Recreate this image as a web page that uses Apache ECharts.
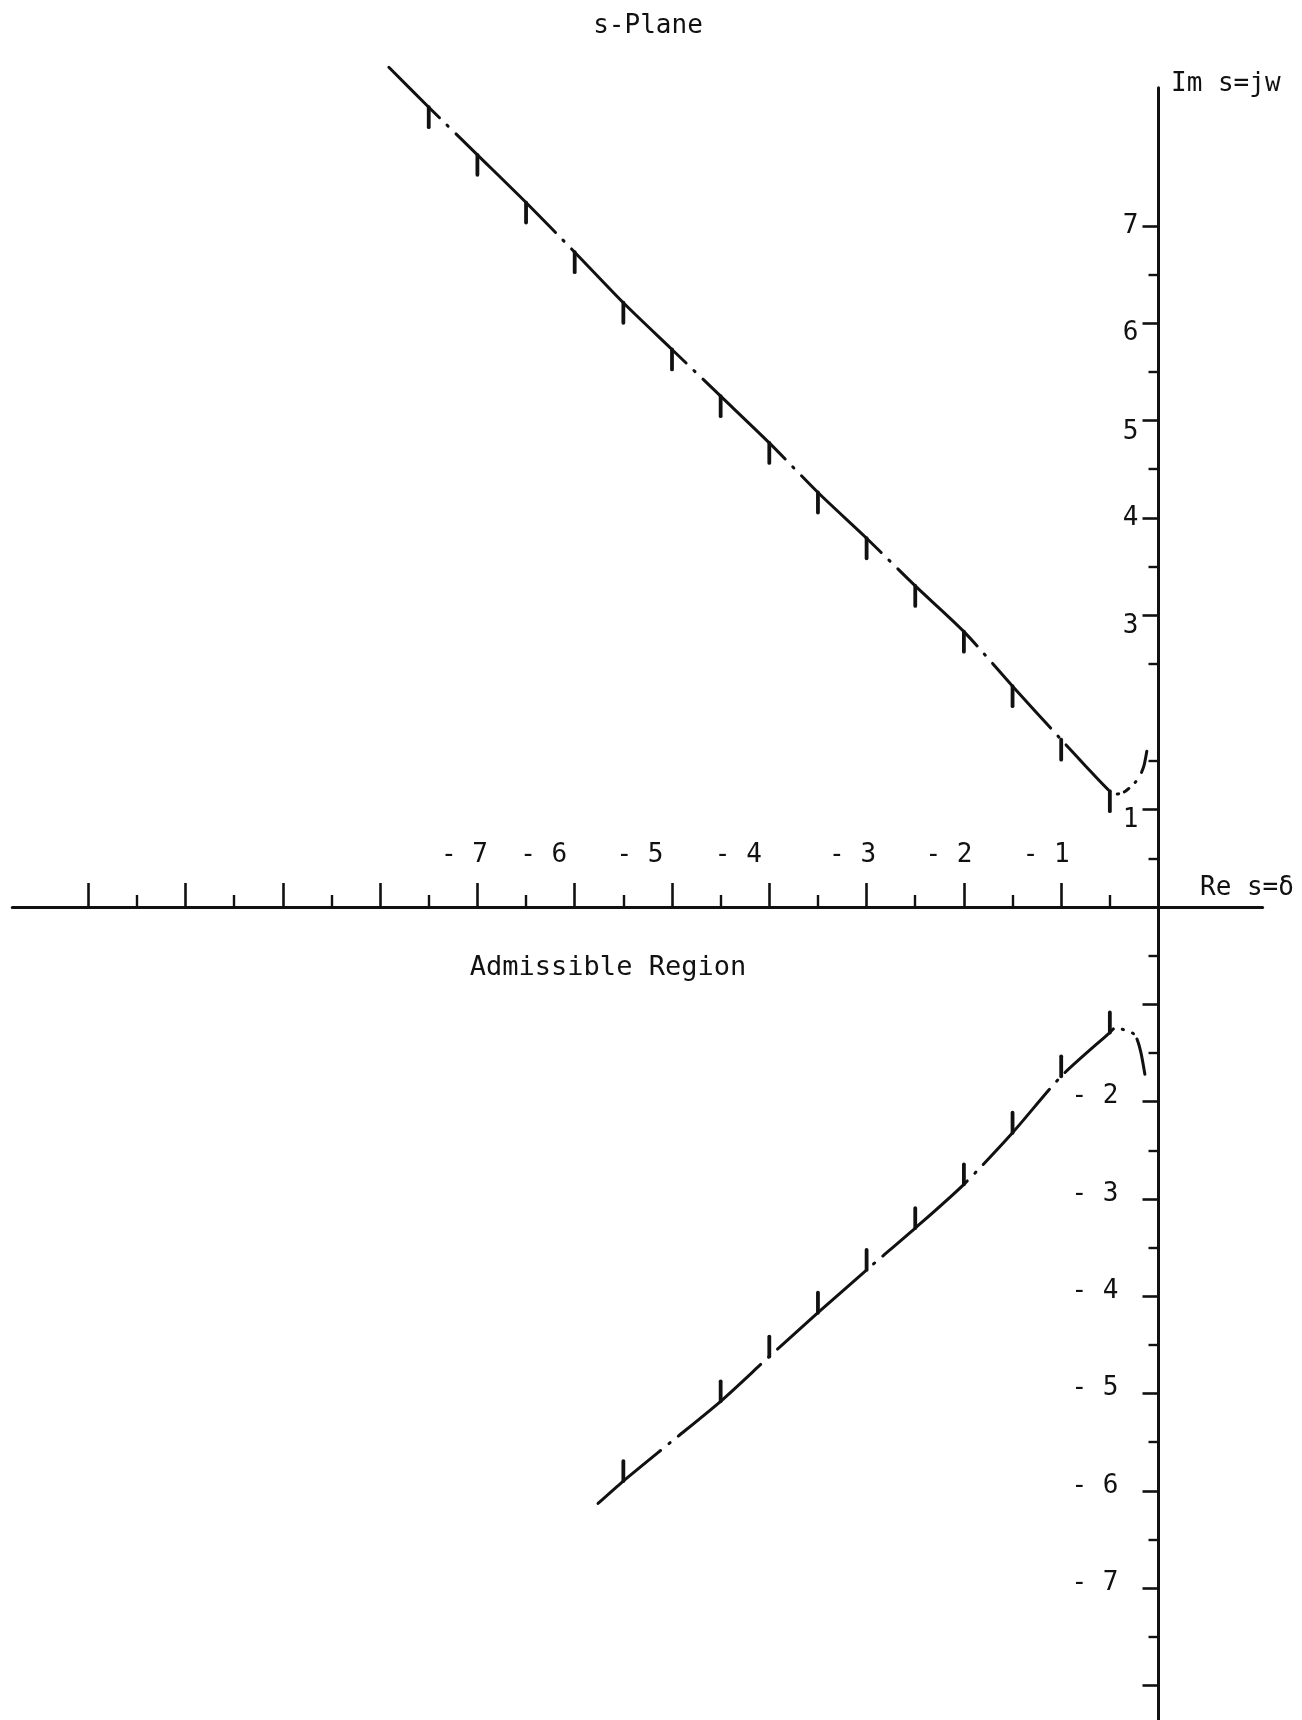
<!DOCTYPE html>
<html>
<head>
<meta charset="utf-8">
<title>s-Plane — Admissible Region</title>
<script src="https://cdn.jsdelivr.net/npm/echarts@6/dist/echarts.min.js"></script>
<style>
  html, body { margin: 0; padding: 0; background: #fff; }
  #chart { width: 1302px; height: 1720px; }
</style>
</head>
<body>
<div id="chart"></div>
<script>
// ---- data: boundary of the admissible region in the s-plane ----
const upperRe = [-7.91, -7.5, -7, -6.5, -6, -5.5, -5, -4.5, -4, -3.5, -3, -2.5, -2, -1.5, -1, -0.75, -0.51, -0.43, -0.34, -0.24, -0.19, -0.15, -0.12];
const upperIm = [8.63, 8.22, 7.73, 7.24, 6.73, 6.21, 5.73, 5.25, 4.77, 4.26, 3.79, 3.30, 2.83, 2.27, 1.72, 1.45, 1.20, 1.16, 1.19, 1.28, 1.35, 1.45, 1.60];

const lowerRe = [-5.76, -5.5, -5, -4.5, -4, -3.5, -3, -2.5, -2, -1.5, -1, -0.5, -0.44, -0.36, -0.26, -0.22, -0.18, -0.14];
const lowerIm = [-6.13, -5.90, -5.49, -5.08, -4.62, -4.17, -3.73, -3.30, -2.85, -2.32, -1.74, -1.29, -1.24, -1.26, -1.30, -1.36, -1.50, -1.72];

// hatch marks on the boundary (pointing away from the admissible side)
const upperHatchRe = [-7.5, -7, -6.5, -6, -5.5, -5, -4.5, -4, -3.5, -3, -2.5, -2, -1.5, -1, -0.5];
const upperHatchIm = [8.22, 7.73, 7.24, 6.73, 6.21, 5.73, 5.25, 4.77, 4.26, 3.79, 3.30, 2.83, 2.27, 1.72, 1.19];
const lowerHatchRe = [-5.5, -4.5, -4, -3.5, -3, -2.5, -2, -1.5, -1, -0.5];
const lowerHatchIm = [-5.90, -5.08, -4.62, -4.17, -3.73, -3.30, -2.85, -2.32, -1.74, -1.29];

// axis ticks and labels
const reMajorTicks = [-11, -10, -9, -8, -7, -6, -5, -4, -3, -2, -1];
const reMinorTicks = [-10.5, -9.5, -8.5, -7.5, -6.5, -5.5, -4.5, -3.5, -2.5, -1.5, -0.5];
const reTickLabels = [-7, -6, -5, -4, -3, -2, -1];
const imMajorTicks = [7, 6, 5, 4, 3, 1, -1, -2, -3, -4, -5, -6, -7, -8];
const imMinorTicks = [6.5, 5.5, 4.5, 3.5, 2.5, 1.5, 0.5, -0.5, -1.5, -2.5, -3.5, -4.5, -5.5, -6.5, -7.5];
const imTickLabels = [7, 6, 5, 4, 3, 1, -2, -3, -4, -5, -6, -7];

// ---- layout & style ----
const ORIGIN_X = 1158.5, ORIGIN_Y = 907, UNIT = 97.3;   // pixel position of s = 0, pixels per unit
const RE_MIN = -11.78, RE_MAX = 1.07, IM_MIN = -8.36, IM_MAX = 8.42;
const INK = '#111';
const FONT = 'DejaVu Sans Mono';
const FONT_SIZE = 26;
const HATCH_LEN = 20;

// chain-line pattern (dash, gap, dot, gap ...) along each boundary, in pixels
const UPPER_DASH = [71.5, 10.75, 1.5, 10.75, 140, 10.75, 1.5, 10.75, 162, 10.75, 1.5, 10.75, 115, 10.75, 1.5, 10.75,
                    111, 10.75, 1.5, 10.75, 111, 10.75, 1.5, 10.75, 87, 10.75, 1.5, 10.75, 61, 10.75, 1.5, 5.5, 6, 8.5, 1.5, 10.75, 300];
const LOWER_DASH = [81.9, 10.75, 1.5, 10.75, 109, 10.75, 1.5, 10.75, 117.6, 10.75, 1.5, 10.75, 113, 10.75, 1.5, 10.75,
                    100, 10.75, 1.5, 10.75, 65, 9.25, 1.5, 9.5, 1.5, 6, 300];

// typed tick labels sit a little off their ticks (pixel offsets)
const RE_LABEL_GAP = 39;
const reLabelShift = { '-7': -13, '-6': -31, '-5': -32, '-4': -31, '-3': -14, '-2': -15, '-1': -15 };
const IM_POS_GAP = 20, IM_NEG_GAP = 40;
const imLabelShift = { '7': 0, '6': 10, '5': 12, '4': 0, '3': 11, '1': 11 };
const IM_NEG_SHIFT = -5;

const pairs = (xs, ys) => xs.map((x, i) => [x, ys[i]]);

function hatchSeries(name, xs, ys, dir) {
  return {
    name, type: 'custom', coordinateSystem: 'cartesian2d', clip: false, silent: true,
    data: pairs(xs, ys),
    renderItem(params, api) {
      const p = api.coord([api.value(0), api.value(1)]);
      return {
        type: 'line',
        shape: { x1: p[0], y1: p[1], x2: p[0], y2: p[1] + dir * HATCH_LEN },
        style: { stroke: INK, lineWidth: 3.8, lineCap: 'round' }
      };
    }
  };
}

function boundarySeries(name, xs, ys, dash) {
  return {
    name, type: 'line', clip: false, silent: true,
    data: pairs(xs, ys),
    showSymbol: false, symbol: 'none',
    smooth: 0.25,
    lineStyle: { color: INK, width: 3, type: dash, cap: 'round', join: 'round' }
  };
}

function labelStyle(text, align, verticalAlign) {
  return { text, fill: INK, fontFamily: FONT, fontSize: FONT_SIZE, align, verticalAlign };
}

// tick labels of the real axis, typed above the axis line
const reLabelSeries = {
  name: 'Re labels', type: 'custom', coordinateSystem: 'cartesian2d', clip: false, silent: true,
  data: reTickLabels.map(v => [v, 0]),
  renderItem(params, api) {
    const v = api.value(0);
    const p = api.coord([v, 0]);
    const key = String(Math.round(v));
    return {
      type: 'text', x: p[0] + reLabelShift[key], y: p[1] - RE_LABEL_GAP,
      style: labelStyle('- ' + Math.round(-v), 'center', 'bottom')
    };
  }
};

// tick labels of the imaginary axis, typed left of the axis line
const imLabelSeries = {
  name: 'Im labels', type: 'custom', coordinateSystem: 'cartesian2d', clip: false, silent: true,
  data: imTickLabels.map(v => [0, v]),
  renderItem(params, api) {
    const v = api.value(1);
    const p = api.coord([0, v]);
    const n = Math.round(v);
    if (n > 0) {
      return {
        type: 'text', x: p[0] - IM_POS_GAP, y: p[1] + imLabelShift[String(n)],
        style: labelStyle(String(n), 'right', 'middle')
      };
    }
    return {
      type: 'text', x: p[0] - IM_NEG_GAP, y: p[1] + IM_NEG_SHIFT,
      style: labelStyle('- ' + (-n), 'right', 'middle')
    };
  }
};

const chart = echarts.init(document.getElementById('chart'), null, { renderer: 'canvas' });
chart.setOption({
  animation: false,
  backgroundColor: '#fff',
  grid: {
    left: ORIGIN_X + RE_MIN * UNIT, top: ORIGIN_Y - IM_MAX * UNIT,
    width: (RE_MAX - RE_MIN) * UNIT, height: (IM_MAX - IM_MIN) * UNIT,
    containLabel: false, outerBoundsMode: 'none'
  },
  xAxis: [
    {
      type: 'value', min: RE_MIN, max: RE_MAX, position: 'bottom',
      axisLine: { show: true, onZero: true, onZeroAxisIndex: 0, lineStyle: { color: INK, width: 3 } },
      axisTick: { show: true, customValues: reMajorTicks, inside: true, length: 24, lineStyle: { color: INK, width: 2.6 } },
      axisLabel: { show: false },
      splitLine: { show: false }
    },
    {
      type: 'value', min: RE_MIN, max: RE_MAX, position: 'top',
      axisLine: { show: false, onZero: true, onZeroAxisIndex: 0 },
      axisTick: { show: true, customValues: reMinorTicks, inside: false, length: 12, lineStyle: { color: INK, width: 2.4 } },
      axisLabel: { show: false },
      splitLine: { show: false }
    }
  ],
  yAxis: [
    {
      type: 'value', min: IM_MIN, max: IM_MAX, position: 'left',
      axisLine: { show: true, onZero: true, onZeroAxisIndex: 0, lineStyle: { color: INK, width: 3 } },
      axisTick: { show: true, customValues: imMajorTicks, inside: false, length: 16, lineStyle: { color: INK, width: 2.6 } },
      axisLabel: { show: false },
      splitLine: { show: false }
    },
    {
      type: 'value', min: IM_MIN, max: IM_MAX, position: 'right',
      axisLine: { show: false, onZero: true, onZeroAxisIndex: 0 },
      axisTick: { show: true, customValues: imMinorTicks, inside: true, length: 10, lineStyle: { color: INK, width: 2.4 } },
      axisLabel: { show: false },
      splitLine: { show: false }
    }
  ],
  graphic: [
    { type: 'text', x: 648, y: 26, style: { text: 's-Plane', fontFamily: FONT, fontSize: FONT_SIZE, fill: INK, align: 'center', verticalAlign: 'middle' } },
    { type: 'text', x: 608, y: 968, style: { text: 'Admissible Region', fontFamily: FONT, fontSize: 27, fill: INK, align: 'center', verticalAlign: 'middle' } },
    { type: 'text', x: 1171, y: 84, style: { text: 'Im s=jw', fontFamily: FONT, fontSize: FONT_SIZE, fill: INK, align: 'left', verticalAlign: 'middle' } },
    { type: 'text', x: 1200, y: 888, style: { text: 'Re s=δ', fontFamily: FONT, fontSize: FONT_SIZE, fill: INK, align: 'left', verticalAlign: 'middle' } }
  ],
  series: [
    boundarySeries('upper boundary', upperRe, upperIm, UPPER_DASH),
    boundarySeries('lower boundary', lowerRe, lowerIm, LOWER_DASH),
    hatchSeries('upper hatch', upperHatchRe, upperHatchIm, 1),
    hatchSeries('lower hatch', lowerHatchRe, lowerHatchIm, -1),
    reLabelSeries,
    imLabelSeries
  ]
});
</script>
</body>
</html>
